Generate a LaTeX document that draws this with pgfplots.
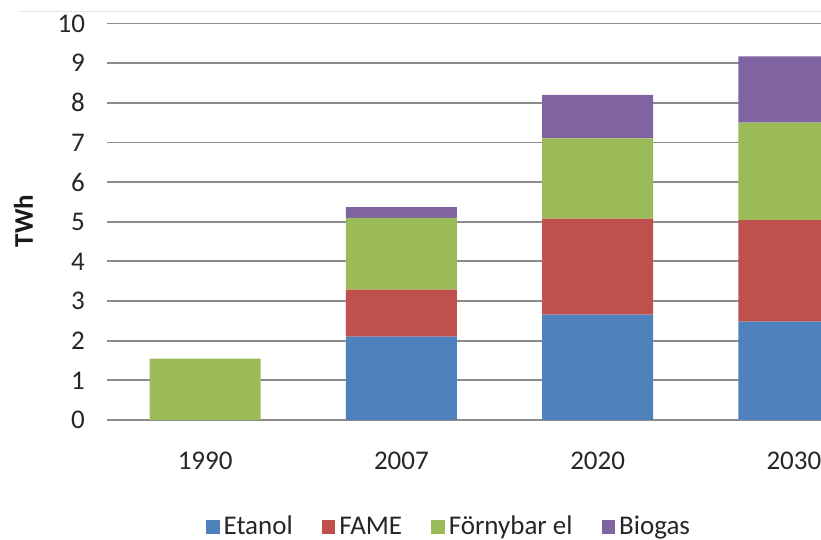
\documentclass[border=0pt]{standalone}
\usepackage{fontspec}
\setmainfont{Carlito}
\usepackage{pgfplots}
\pgfplotsset{compat=1.18}
\definecolor{cEt}{HTML}{4F81BD}
\definecolor{cFa}{HTML}{C0504D}
\definecolor{cFo}{HTML}{9BBB59}
\definecolor{cBi}{HTML}{8064A2}
\definecolor{gridc}{HTML}{8C8C8C}
\begin{document}
\begin{tikzpicture}
\begin{axis}[
  at={(53.5pt,60pt)}, anchor=south west,
  scale only axis,
  width=392.5pt, height=198.25pt,
  ybar stacked, bar width=55.5pt,
  xmin=-0.5, xmax=3.5, ymin=0, ymax=10,
  xtick={0,1,2,3}, xticklabels={1990,2007,2020,2030},
  ytick={0,1,...,10},
  axis line style={draw=none},
  major tick length=0pt,
  xmajorgrids=false, ymajorgrids=true,
  major grid style={draw=gridc, line width=0.9pt},
  /pgf/number format/assume math mode=true,
  tick label style={font=\fontsize{13.5}{15}\selectfont, text=black!85},
  yticklabel shift=7.5pt,
  xticklabel shift=12.5pt,
  ylabel={\textbf{TWh}},
  ylabel style={at={(axis description cs:-0.1064,0.502)}, anchor=center, font=\fontsize{13.5}{15}\selectfont, text=black!90},
  legend columns=4,
  legend style={at={(axis description cs:0.437,-0.27)}, anchor=center, draw=none, fill=none,
    inner sep=0pt, nodes={inner ysep=0.5pt},
    font=\fontsize{13.5}{15}\selectfont, text=black!85,
    /tikz/every even column/.append style={column sep=12.5pt}},
  legend image code/.code={\fill[#1] (0pt,-3.4pt) rectangle (6.8pt,3.4pt);},
]
\addplot[fill=cEt, draw=none] coordinates {(0,0) (1,2.10) (2,2.66) (3,2.48)};
\addplot[fill=cFa, draw=none] coordinates {(0,0) (1,1.19) (2,2.42) (3,2.56)};
\addplot[fill=cFo, draw=none] coordinates {(0,1.55) (1,1.81) (2,2.02) (3,2.46)};
\addplot[fill=cBi, draw=none] coordinates {(0,0) (1,0.27) (2,1.10) (3,1.67)};
\legend{Etanol, FAME, Förnybar el, Biogas}
\end{axis}
\draw[black!10, line width=0.5pt] (10pt,264pt) -- (420pt,264pt);
\pgfresetboundingbox
\path[use as bounding box] (0,0) rectangle (410.5pt,270pt);
\end{tikzpicture}
\end{document}
